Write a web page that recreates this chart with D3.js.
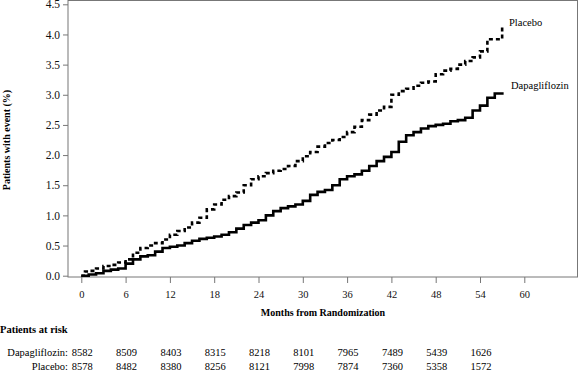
<!DOCTYPE html>
<html><head><meta charset="utf-8">
<script src="https://cdn.jsdelivr.net/npm/d3@7"></script>
<style>body{margin:0;background:#fff}svg{display:block;font-family:"Liberation Serif","Times New Roman",serif}</style>
</head><body><svg id="c" width="579" height="371"></svg>
<script>
const placeboMonths = [0,0.5,1,2,3,4,5,6,7,8,9,10,11,12,13,14,15,16,17,18,19,20,21,22,23,24,25,26,27,28,29,30,31,32,33,34,35,36,37,38,39,40,41,42,43,44,45,46,47,48,49,50,51,52,53,54,55,56,57,57.2];
const placeboValues = [0,0.07,0.08,0.12,0.16,0.18,0.22,0.27,0.38,0.46,0.50,0.54,0.60,0.68,0.74,0.80,0.88,0.96,1.10,1.18,1.26,1.32,1.38,1.50,1.60,1.65,1.70,1.74,1.77,1.82,1.90,1.98,2.05,2.14,2.20,2.25,2.30,2.38,2.47,2.58,2.67,2.74,2.80,3.00,3.06,3.10,3.15,3.20,3.22,3.34,3.40,3.43,3.50,3.56,3.62,3.72,3.92,3.92,4.12,4.12];
const dapaMonths = [0,1,2,3,4,5,6,7,8,9,10,11,12,13,14,15,16,17,18,19,20,21,22,23,24,25,26,27,28,29,30,31,32,33,34,35,36,37,38,39,40,41,42,43,44,45,46,47,48,49,50,51,52,53,54,55,56,57.2];
const dapaValues = [0,0.02,0.04,0.08,0.10,0.12,0.20,0.27,0.32,0.34,0.40,0.46,0.48,0.50,0.54,0.58,0.61,0.63,0.65,0.68,0.72,0.78,0.84,0.88,0.92,1.00,1.07,1.12,1.15,1.18,1.24,1.34,1.39,1.42,1.50,1.60,1.65,1.68,1.74,1.82,1.90,1.97,2.05,2.22,2.33,2.38,2.44,2.48,2.50,2.52,2.56,2.58,2.62,2.74,2.82,2.95,3.02,3.02];
const xTicks = [0,6,12,18,24,30,36,42,48,54,60];
const yTicks = [0,0.5,1,1.5,2,2.5,3,3.5,4,4.5];
const riskMonths = [0,6,12,18,24,30,36,42,48,54];
const riskDapa = [8582,8509,8403,8315,8218,8101,7965,7489,5439,1626];
const riskPlacebo = [8578,8482,8380,8256,8121,7998,7874,7360,5358,1572];

const svg = d3.select("#c");
const x = d3.scaleLinear().domain([0,60]).range([81.3,524.3]);
const y = d3.scaleLinear().domain([0,4.5]).range([275.7,4.3]);

// frame
svg.append("rect").attr("x",68).attr("y",0.5).attr("width",509.5).attr("height",276.5)
  .attr("fill","none").attr("stroke","#777").attr("stroke-width",1);

// y axis
const ya = svg.append("g").attr("transform","translate(68,0)")
  .call(d3.axisLeft(y).tickValues(yTicks).tickFormat(d3.format(".1f")).tickSize(5).tickPadding(3));
ya.select(".domain").remove();
ya.selectAll("line").attr("stroke","#777");
ya.selectAll("text").attr("font-size","11.5px").attr("fill","#111").attr("font-family","Liberation Serif, serif");

// x axis
const xa = svg.append("g").attr("transform","translate(0,277)")
  .call(d3.axisBottom(x).tickValues(xTicks).tickSize(6).tickPadding(8));
xa.select(".domain").remove();
xa.selectAll("line").attr("stroke","#777");
xa.selectAll("text").attr("font-size","10.5px").attr("fill","#111").attr("font-family","Liberation Serif, serif");

// titles
svg.append("text").attr("x",323).attr("y",316).attr("text-anchor","middle")
  .attr("font-size","10px").attr("font-weight","bold").text("Months from Randomization");
svg.append("text").attr("transform","translate(10,140) rotate(-90)").attr("text-anchor","middle")
  .attr("font-size","10px").attr("font-weight","bold").text("Patients with event (%)");

// curves
const line = d3.line().x(d=>x(d[0])).y(d=>y(d[1])).curve(d3.curveStepAfter);
const pData = placeboMonths.map((m,i)=>[m,placeboValues[i]]);
const dData = dapaMonths.map((m,i)=>[m,dapaValues[i]]);
svg.append("path").attr("d",line(pData)).attr("fill","none").attr("stroke","#000")
  .attr("stroke-width",2.6).attr("stroke-dasharray","4,3");
svg.append("path").attr("d",line(dData)).attr("fill","none").attr("stroke","#000")
  .attr("stroke-width",2.6);

svg.append("text").attr("x",509).attr("y",25.5).attr("font-size","10.5px").text("Placebo");
svg.append("text").attr("x",511).attr("y",89).attr("font-size","10.5px").text("Dapagliflozin");

// risk table
svg.append("text").attr("x",0).attr("y",333).attr("font-size","10.5px").attr("font-weight","bold").text("Patients at risk");
svg.append("text").attr("x",68).attr("y",355.5).attr("text-anchor","end").attr("font-size","10.5px").text("Dapagliflozin:");
svg.append("text").attr("x",68).attr("y",369.5).attr("text-anchor","end").attr("font-size","10.5px").text("Placebo:");
svg.append("g").selectAll("text").data(riskMonths).join("text")
  .attr("x",d=>x(d)+1).attr("y",355.5).attr("text-anchor","middle").attr("font-size","10.5px")
  .text((d,i)=>riskDapa[i]);
svg.append("g").selectAll("text").data(riskMonths).join("text")
  .attr("x",d=>x(d)+1).attr("y",369.5).attr("text-anchor","middle").attr("font-size","10.5px")
  .text((d,i)=>riskPlacebo[i]);
</script></body></html>
